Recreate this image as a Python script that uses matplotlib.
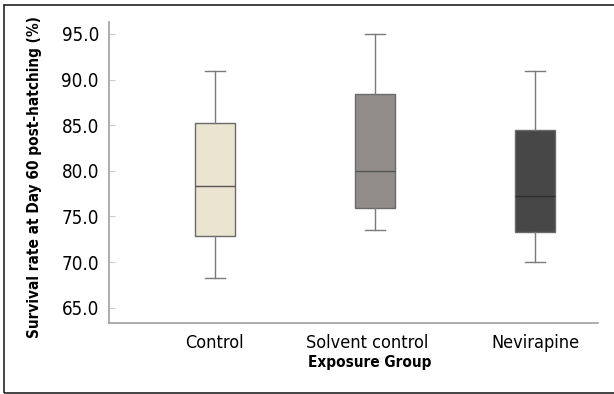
import matplotlib
matplotlib.use("Agg")
from matplotlib import pyplot as plt
from matplotlib import font_manager
from matplotlib.patches import Rectangle
from matplotlib.transforms import ScaledTranslation

# five-number summaries
groups = ["Control", "Solvent control", "Nevirapine"]
whislo = [68.3, 73.55, 70.0]
q1 = [72.85, 75.9, 73.3]
med = [78.3, 80.0, 77.25]
q3 = [85.2, 88.4, 84.45]
whishi = [90.9, 95.0, 90.9]
fills = ["#ebe4d1", "#918c89", "#474747"]
yticks = [65.0, 70.0, 75.0, 80.0, 85.0, 90.0, 95.0]

# look for a narrow / condensed face, the reference uses one
narrow = [f for f in font_manager.fontManager.ttflist
          if ('narrow' in f.name.lower() or 'condensed' in f.name.lower()
              or f.stretch in ('condensed', 'semi-condensed', 'extra-condensed'))
          and f.style == 'normal']
reg = [f for f in narrow if f.weight in (400, 'normal', 'regular')]
bld = [f for f in narrow if f.weight in (700, 'bold')]
if reg and bld:
    fp = font_manager.FontProperties(fname=reg[0].fname)
    fpb = font_manager.FontProperties(fname=bld[0].fname)
    sz, szb = 13.5, 11
else:
    fp = font_manager.FontProperties(family='Liberation Sans')
    fpb = font_manager.FontProperties(family='Liberation Sans', weight='bold')
    sz, szb = 12, 10

fig = plt.figure(figsize=(6.14, 3.94), dpi=100)
ax = fig.add_axes([108.7/614, 1 - 322.7/394, (597.7-108.7)/614, (322.7-22)/394])

stats = []
for i, g in enumerate(groups):
    stats.append(dict(label=g, whislo=whislo[i], q1=q1[i], med=med[i],
                      q3=q3[i], whishi=whishi[i], fliers=[]))

bp = ax.bxp(stats, positions=[1, 2, 3], widths=0.252, patch_artist=True,
            showfliers=False,
            boxprops=dict(edgecolor="#6a6a6a", linewidth=1.0),
            medianprops=dict(color="#555555", linewidth=1.0),
            whiskerprops=dict(color="#7a7a7a", linewidth=1.0),
            capprops=dict(color="#7a7a7a", linewidth=1.0),
            capwidths=0.125)
for patch, c in zip(bp['boxes'], fills):
    patch.set_facecolor(c)
bp['medians'][2].set_color("#2e2e2e")

ax.set_xlim(0.337, 3.39)
ax.set_ylim(63.36, 96.3)
ax.set_yticks(yticks)
ax.set_yticklabels(["%.1f" % v for v in yticks], fontproperties=fp, fontsize=sz)
ax.set_xticks([1, 2, 3])
ax.set_xticklabels(groups, fontproperties=fp, fontsize=sz - 0.5)
ax.tick_params(axis='y', direction='in', length=4, color="#cccccc", pad=7)
ax.tick_params(axis='x', length=0, pad=8)
# the middle label sits a bit left of its box in the original
lab = ax.get_xticklabels()[1]
lab.set_transform(lab.get_transform() + ScaledTranslation(-8/100, 0, fig.dpi_scale_trans))
for s in ['top', 'right']:
    ax.spines[s].set_visible(False)
for s in ['left', 'bottom']:
    ax.spines[s].set_color("#a0a0a0")
    ax.spines[s].set_linewidth(1.2)

fig.text(369.7/614, 1 - 363/394, "Exposure Group", ha='center', va='center',
         fontproperties=fpb, fontsize=szb)
fig.text(35/614, 1 - 177/394, "Survival rate at Day 60 post-hatching (%)",
         rotation=90, ha='center', va='center', fontproperties=fpb, fontsize=szb)

# border around the figure (its right side runs off the image)
fig.patches.append(Rectangle((4/614, 1.5/394), 700/614, (392.5-5)/394,
                             transform=fig.transFigure, fill=False,
                             edgecolor="#222222", linewidth=1.2))

fig.savefig("out.png", dpi=100)
